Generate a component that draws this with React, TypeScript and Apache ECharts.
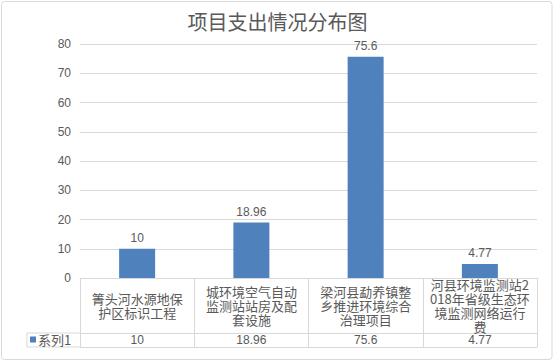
import React, { useEffect, useRef } from "react";
import * as echarts from "echarts";

const titleText = "项目支出情况分布图";
const seriesName = "系列1";
const categories = [
  "箐头河水源地保护区标识工程",
  "城环境空气自动监测站站房及配套设施",
  "梁河县勐养镇整乡推进环境综合治理项目",
  "河县环境监测站2018年省级生态环境监测网络运行费",
];
const values = [10, 18.96, 75.6, 4.77];
const yTicks = { min: 0, max: 80, interval: 10 };

const GRAY = "#595959";
const LINE = "#d9d9d9";
const CJK = '"Noto Sans CJK SC", "Liberation Sans", sans-serif';
const NUM = '"Liberation Sans", "Noto Sans CJK SC", sans-serif';

export default function App() {
  const ref = useRef<HTMLDivElement>(null);
  useEffect(() => {
    if (!ref.current) return;
    const chart = echarts.init(ref.current, undefined, { renderer: "svg" });
    chart.setOption({
      animation: false,
      backgroundColor: "#ffffff",
      title: {
        text: titleText,
        left: "center",
        top: 6,
        textStyle: { color: GRAY, fontSize: 20, fontWeight: "normal", fontFamily: CJK },
      },
      legend: {
        left: 30,
        top: 333,
        itemWidth: 6,
        itemHeight: 6,
        itemGap: 2,
        padding: 0,
        icon: "rect",
        data: [seriesName],
        textStyle: { color: GRAY, fontSize: 13, fontFamily: CJK, padding: [0, 0, 0, -3] },
        height: 14,
      },
      grid: { left: 80, right: 18, top: 44, bottom: 84 },
      xAxis: [
        {
          type: "category",
          data: categories,
          position: "bottom",
          axisLine: { show: true, lineStyle: { color: LINE } },
          axisTick: { show: true, length: 69, interval: 0, lineStyle: { color: LINE } },
          axisLabel: {
            interval: 0,
            width: 101,
            overflow: "breakAll",
            fontSize: 13,
            lineHeight: 14,
            color: GRAY,
            fontFamily: CJK,
            margin: 27.5,
            verticalAlign: "middle",
          },
        },
        {
          type: "category",
          data: categories,
          position: "bottom",
          offset: 55,
          axisLine: { show: true, lineStyle: { color: LINE } },
          axisTick: { show: false },
          axisLabel: {
            interval: 0,
            formatter: (_v: string, i: number) => String(values[i]),
            fontSize: 12,
            color: GRAY,
            fontFamily: NUM,
            margin: 7,
            verticalAlign: "middle",
          },
        },
        {
          type: "category",
          data: categories,
          position: "bottom",
          offset: 69,
          axisLine: { show: true, lineStyle: { color: LINE } },
          axisTick: { show: false },
          axisLabel: { show: false },
        },
      ],
      yAxis: {
        type: "value",
        min: yTicks.min,
        max: yTicks.max,
        interval: yTicks.interval,
        axisLine: { show: false },
        axisTick: { show: false },
        axisLabel: { color: GRAY, fontSize: 12, fontFamily: NUM, margin: 9 },
        splitLine: { lineStyle: { color: LINE } },
      },
      series: [
        {
          name: seriesName,
          type: "bar",
          data: values,
          barWidth: 36,
          itemStyle: { color: "#4f81bd" },
          label: {
            show: true,
            position: "top",
            distance: 5,
            color: GRAY,
            fontSize: 12,
            fontFamily: NUM,
          },
        },
      ],
      graphic: [
        {
          type: "rect",
          shape: { x: 1.5, y: 1.5, width: 550.5, height: 358, r: 3 },
          style: { fill: "none", stroke: LINE, lineWidth: 1 },
          silent: true,
          z: -1,
        },
        { type: "line", shape: { x1: 27, y1: 333, x2: 80, y2: 333 }, style: { stroke: LINE, lineWidth: 1 } },
        { type: "line", shape: { x1: 27, y1: 347, x2: 80, y2: 347 }, style: { stroke: LINE, lineWidth: 1 } },
        { type: "line", shape: { x1: 27, y1: 333, x2: 27, y2: 347 }, style: { stroke: LINE, lineWidth: 1 } },
      ],
    });
    return () => chart.dispose();
  }, []);
  return (
    <div
      ref={ref}
      style={{ position: "absolute", left: 0, top: 0, width: 555, height: 362 }}
    />
  );
}
